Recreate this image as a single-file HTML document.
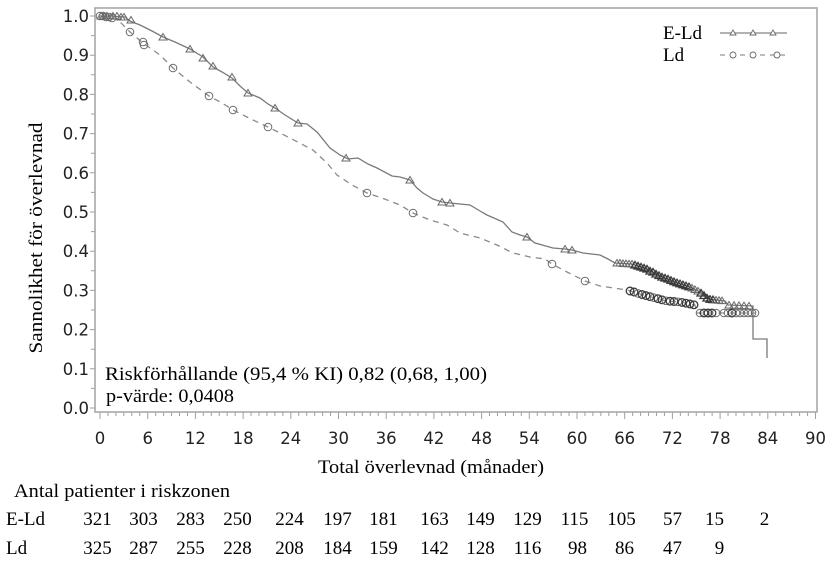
<!DOCTYPE html>
<html><head><meta charset="utf-8"><style>
html,body{margin:0;padding:0;background:#fff;}
svg{display:block;}
.s{font-family:"DejaVu Sans","Liberation Sans",sans-serif;font-size:16.5px;fill:#222;}
.r{font-family:"Liberation Serif",serif;font-size:19px;fill:#000;}
</style></head><body>
<svg width="828" height="574" viewBox="0 0 828 574" xmlns="http://www.w3.org/2000/svg" xmlns:xlink="http://www.w3.org/1999/xlink">
<defs>
<path id="t" d="M0,-3.5 L4,3 L-4,3 Z" fill="none" stroke="#6a6a6a" stroke-width="1"/>
<circle id="c" r="3.8" fill="none" stroke="#6a6a6a" stroke-width="1"/>
<path id="td" d="M0,-3.5 L4,3 L-4,3 Z" fill="none" stroke="#3a3a3a" stroke-width="1.3"/>
<circle id="cd" r="3.8" fill="none" stroke="#3a3a3a" stroke-width="1.3"/>
</defs>
<rect x="0" y="0" width="828" height="574" fill="#fff"/>
<!-- frame -->
<rect x="95" y="8" width="722" height="404" fill="none" stroke="#a8a8a8" stroke-width="1.6"/>
<!-- y ticks -->
<g stroke="#a0a0a0" stroke-width="1">
<path d="M90,16H95M91,35.6H95M90,55.2H95M91,74.8H95M90,94.4H95M91,114H95M90,133.6H95M91,153.2H95M90,172.8H95M91,192.4H95M90,212H95M91,231.6H95M90,251.2H95M91,270.8H95M90,290.4H95M91,310H95M90,329.6H95M91,349.2H95M90,368.8H95M91,388.4H95M90,408H95"/>
</g>
<!-- x ticks -->
<path stroke="#a0a0a0" stroke-width="1" d="M100,412V419M107.95,412V416M115.9,412V416M123.85,412V416M131.8,412V416M139.75,412V416M147.7,412V419M155.65,412V416M163.6,412V416M171.55,412V416M179.5,412V416M187.45,412V416M195.4,412V419M203.35,412V416M211.3,412V416M219.25,412V416M227.2,412V416M235.15,412V416M243.1,412V419M251.05,412V416M259,412V416M266.95,412V416M274.9,412V416M282.85,412V416M290.8,412V419M298.75,412V416M306.7,412V416M314.65,412V416M322.6,412V416M330.55,412V416M338.5,412V419M346.45,412V416M354.4,412V416M362.35,412V416M370.3,412V416M378.25,412V416M386.2,412V419M394.15,412V416M402.1,412V416M410.05,412V416M418,412V416M425.95,412V416M433.9,412V419M441.85,412V416M449.8,412V416M457.75,412V416M465.7,412V416M473.65,412V416M481.6,412V419M489.55,412V416M497.5,412V416M505.45,412V416M513.4,412V416M521.35,412V416M529.3,412V419M537.25,412V416M545.2,412V416M553.15,412V416M561.1,412V416M569.05,412V416M577,412V419M584.95,412V416M592.9,412V416M600.85,412V416M608.8,412V416M616.75,412V416M624.7,412V419M632.65,412V416M640.6,412V416M648.55,412V416M656.5,412V416M664.45,412V416M672.4,412V419M680.35,412V416M688.3,412V416M696.25,412V416M704.2,412V416M712.15,412V416M720.1,412V419M728.05,412V416M736,412V416M743.95,412V416M751.9,412V416M759.85,412V416M767.8,412V419M775.75,412V416M783.7,412V416M791.65,412V416M799.6,412V416M807.55,412V416M815.5,412V419"/>
<!-- y tick labels -->
<g class="s" text-anchor="end">
<text x="89" y="22">1.0</text>
<text x="89" y="61.2">0.9</text>
<text x="89" y="100.4">0.8</text>
<text x="89" y="139.6">0.7</text>
<text x="89" y="178.8">0.6</text>
<text x="89" y="218">0.5</text>
<text x="89" y="257.2">0.4</text>
<text x="89" y="296.4">0.3</text>
<text x="89" y="335.6">0.2</text>
<text x="89" y="374.8">0.1</text>
<text x="89" y="414">0.0</text>
</g>
<!-- x tick labels -->
<g class="s" text-anchor="middle">
<text x="100" y="444">0</text>
<text x="147.7" y="444">6</text>
<text x="195.4" y="444">12</text>
<text x="243.1" y="444">18</text>
<text x="290.8" y="444">24</text>
<text x="338.5" y="444">30</text>
<text x="386.2" y="444">36</text>
<text x="433.9" y="444">42</text>
<text x="481.6" y="444">48</text>
<text x="529.3" y="444">54</text>
<text x="577" y="444">60</text>
<text x="624.7" y="444">66</text>
<text x="672.4" y="444">72</text>
<text x="720.1" y="444">78</text>
<text x="767.8" y="444">84</text>
<text x="815.5" y="444">90</text>
</g>
<!-- axis titles -->
<text class="r" x="318" y="473" textLength="226" lengthAdjust="spacingAndGlyphs">Total överlevnad (månader)</text>
<text class="r" transform="translate(42,238) rotate(-90)" text-anchor="middle" textLength="231" lengthAdjust="spacingAndGlyphs">Sannolikhet för överlevnad</text>
<!-- curves -->
<path fill="none" stroke="#7a7a7a" stroke-width="1.3" d="M100,16 L110,16 L125,17 L130,21 L140,25 L152,31 L163,37 L175,42 L190,49 L203,57 L213,67 L222,72 L232,78 L240,86 L248,93 L260,98 L268,104 L275,108 L285,115 L298,123 L307,124 L317,132 L330,148 L340,155 L348,159 L358,158 L368,164 L377,168 L392,176 L400,177 L410,180 L417,188 L423,193 L433,199 L442,202 L450,203 L470,205 L480,211 L487,215 L503,222 L512,232 L520,235 L527,237 L535,243 L553,248 L565,249 L572,250 L583,253 L600,255 L608,259 L615,263 L632,264 L645,268 L660,276 L675,282 L690,287 L700,292 L708,299 L725,301 L728,305 L753,306 L753,339 L767,339 L767,358"/>
<path fill="none" stroke="#8a8a8a" stroke-width="1.3" stroke-dasharray="6,5" d="M100,16 L107,17 L115,19 L120,22 L130,32 L143,43 L160,55 L173,68 L190,82 L209,96 L222,103 L233,110 L253,120 L268,127 L290,138 L313,150 L327,163 L337,175 L352,185 L367,193 L382,198 L400,205 L413,213 L430,220 L447,225 L460,233 L480,238 L497,245 L513,253 L530,257 L545,259 L552,264 L567,272 L585,281 L600,286 L627,290 L640,294 L655,298 L667,301 L680,302 L695,305 L697,313 L755,313"/>
<!-- E-Ld markers -->
<g>
<use href="#t" x="101" y="16"/><use href="#t" x="104" y="16"/><use href="#t" x="107" y="16"/><use href="#t" x="113" y="16"/><use href="#t" x="117" y="16"/><use href="#t" x="121" y="17"/><use href="#t" x="124" y="17"/><use href="#t" x="131" y="20"/>
<use href="#t" x="163" y="37"/><use href="#t" x="190" y="49"/><use href="#t" x="203" y="58"/><use href="#t" x="213" y="66"/><use href="#t" x="232" y="77"/><use href="#t" x="248" y="93"/><use href="#t" x="275" y="108"/><use href="#t" x="298" y="123"/><use href="#t" x="346" y="158"/><use href="#t" x="410" y="180"/><use href="#t" x="442" y="202"/><use href="#t" x="450" y="203"/><use href="#t" x="527" y="237"/><use href="#t" x="565" y="249"/><use href="#t" x="572" y="250"/>
<use href="#t" x="617" y="263"/><use href="#t" x="620" y="263"/><use href="#t" x="623" y="263.5"/><use href="#t" x="626" y="263.6"/><use href="#t" x="629" y="263.8"/><use href="#t" x="632" y="264"/><use href="#td" x="635" y="265"/><use href="#td" x="638" y="266"/><use href="#td" x="641" y="267"/><use href="#td" x="644" y="268"/><use href="#td" x="647" y="269"/><use href="#td" x="650" y="271"/><use href="#td" x="653" y="272"/><use href="#td" x="656" y="274"/><use href="#td" x="659" y="275.5"/><use href="#td" x="662" y="277"/><use href="#td" x="665" y="278"/><use href="#td" x="668" y="279"/><use href="#td" x="671" y="280.4"/><use href="#td" x="674" y="281.6"/><use href="#td" x="677" y="282.7"/><use href="#td" x="680" y="283.7"/><use href="#td" x="683" y="284.7"/><use href="#td" x="686" y="285.7"/><use href="#td" x="689" y="286.7"/><use href="#t" x="692" y="288"/><use href="#t" x="695" y="289.5"/><use href="#t" x="698" y="291"/><use href="#td" x="701" y="293"/><use href="#td" x="704" y="295.5"/><use href="#td" x="707" y="298"/><use href="#td" x="710" y="299.2"/><use href="#td" x="713" y="299.6"/><use href="#t" x="716" y="300"/><use href="#t" x="719" y="300.3"/><use href="#t" x="722" y="300.6"/><use href="#t" x="729" y="305"/><use href="#t" x="734" y="305.2"/><use href="#t" x="739" y="305.4"/><use href="#t" x="744" y="305.6"/><use href="#t" x="749" y="305.9"/>
</g>
<!-- Ld markers -->
<g>
<use href="#c" x="100" y="16"/><use href="#c" x="103" y="16"/><use href="#c" x="106" y="17"/><use href="#c" x="109" y="17"/><use href="#c" x="112" y="18"/>
<use href="#c" x="130" y="32"/><use href="#c" x="143" y="42"/><use href="#c" x="144" y="45"/><use href="#c" x="173" y="68"/><use href="#c" x="209" y="96"/><use href="#c" x="233" y="110"/><use href="#c" x="268" y="127"/><use href="#c" x="367" y="193"/><use href="#c" x="413" y="213"/><use href="#c" x="552" y="264"/><use href="#c" x="585" y="281"/>
<use href="#cd" x="630" y="291"/><use href="#cd" x="634" y="292"/><use href="#c" x="638" y="293.4"/><use href="#cd" x="642" y="294.5"/><use href="#cd" x="646" y="295.6"/><use href="#cd" x="650" y="296.7"/><use href="#c" x="654" y="297.7"/><use href="#cd" x="658" y="298.7"/><use href="#cd" x="662" y="299.8"/><use href="#c" x="666" y="300.8"/><use href="#cd" x="670" y="301.2"/><use href="#cd" x="674" y="301.5"/><use href="#c" x="678" y="301.8"/><use href="#cd" x="682" y="302.4"/><use href="#cd" x="686" y="303.2"/><use href="#cd" x="690" y="304"/><use href="#cd" x="694" y="304.8"/>
<use href="#c" x="700" y="313"/><use href="#cd" x="704" y="313"/><use href="#cd" x="708" y="313"/><use href="#cd" x="712" y="313"/><use href="#c" x="716" y="313"/>
<use href="#c" x="724" y="313"/><use href="#c" x="728" y="313"/><use href="#cd" x="732" y="313"/><use href="#c" x="736" y="313"/><use href="#c" x="740" y="313"/><use href="#c" x="744" y="313"/><use href="#c" x="748" y="313"/><use href="#c" x="752" y="313"/><use href="#c" x="755" y="313"/>
</g>
<!-- legend -->
<text class="r" x="663" y="39">E-Ld</text>
<text class="r" x="663" y="61">Ld</text>
<path d="M720,33H787" stroke="#858585" stroke-width="1.2"/>
<path d="M720,55H787" stroke="#959595" stroke-width="1.2" stroke-dasharray="5,5"/>
<path d="M733,30 L736,35 L730,35 Z M753,30 L756,35 L750,35 Z M773,30 L776,35 L770,35 Z" fill="#fff" stroke="#6a6a6a" stroke-width="0.9"/>
<circle cx="733" cy="55" r="3" fill="#fff" stroke="#6a6a6a" stroke-width="0.9"/>
<circle cx="753" cy="55" r="3" fill="#fff" stroke="#6a6a6a" stroke-width="0.9"/>
<circle cx="777" cy="55" r="3" fill="#fff" stroke="#6a6a6a" stroke-width="0.9"/>
<!-- annotation -->
<text class="r" x="105" y="380" textLength="382" lengthAdjust="spacingAndGlyphs">Riskförhållande (95,4 % KI) 0,82 (0,68, 1,00)</text>
<text class="r" x="106" y="402" textLength="128" lengthAdjust="spacingAndGlyphs">p-värde: 0,0408</text>
<!-- risk table -->
<text class="r" x="14" y="497" textLength="216" lengthAdjust="spacingAndGlyphs">Antal patienter i riskzonen</text>
<text class="r" x="6" y="525">E-Ld</text>
<text class="r" x="6" y="554">Ld</text>
<g class="r" text-anchor="middle">
<text x="97.5" y="525">321</text><text x="143.5" y="525">303</text><text x="190.5" y="525">283</text><text x="237.5" y="525">250</text><text x="289.5" y="525">224</text><text x="337.5" y="525">197</text><text x="383.5" y="525">181</text><text x="434.5" y="525">163</text><text x="480.5" y="525">149</text><text x="527.5" y="525">129</text><text x="574.5" y="525">115</text><text x="621.5" y="525">105</text><text x="672.5" y="525">57</text><text x="714.5" y="525">15</text><text x="764.5" y="525">2</text>
<text x="97.5" y="554">325</text><text x="143.5" y="554">287</text><text x="190.5" y="554">255</text><text x="237.5" y="554">228</text><text x="289.5" y="554">208</text><text x="337.5" y="554">184</text><text x="383.5" y="554">159</text><text x="434.5" y="554">142</text><text x="480.5" y="554">128</text><text x="527.5" y="554">116</text><text x="577.5" y="554">98</text><text x="624.5" y="554">86</text><text x="672.5" y="554">47</text><text x="719.5" y="554">9</text>
</g>
</svg>
</body></html>
